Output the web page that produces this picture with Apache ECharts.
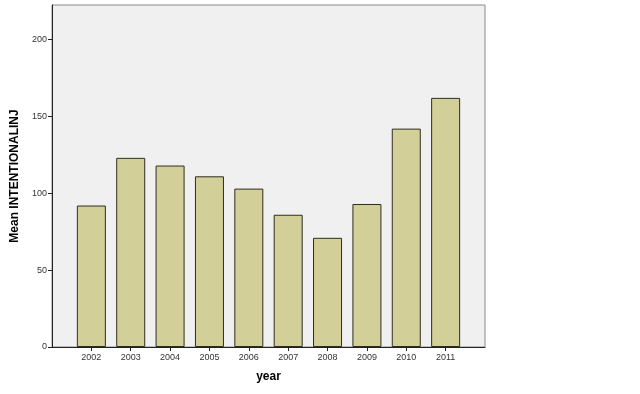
<!DOCTYPE html>
<html><head><meta charset="utf-8">
<script src="https://cdn.jsdelivr.net/npm/echarts@6/dist/echarts.min.js"></script>
<style>html,body{margin:0;padding:0;background:#fff}#c{width:640px;height:394px}</style>
</head><body><div id="c"></div>
<script>
const years = ['2002','2003','2004','2005','2006','2007','2008','2009','2010','2011'];
const meanValues = [92, 123, 118, 111, 103, 86, 71, 93, 142, 162];
const yTicks = [0, 50, 100, 150, 200];

const cats = [''].concat(years, ['']);
const vals = [null].concat(meanValues, [null]);
const chart = echarts.init(document.getElementById('c'), null, {renderer:'canvas'});
chart.setOption({
  animation: false,
  backgroundColor: '#ffffff',
  grid: {left: 52, top: 5, right: 155, bottom: 47, show: true, outerBoundsMode: 'none', containLabel: false,
         backgroundColor: '#f0f0f0', borderColor: '#8a8a8a', borderWidth: 1},
  xAxis: {
    type: 'category', data: cats, boundaryGap: false,
    name: 'year', nameLocation: 'middle', nameGap: 24,
    nameTextStyle: {fontFamily: 'Liberation Sans', fontWeight: 'bold', fontSize: 12, color: '#000'},
    axisLine: {lineStyle: {color: '#222', width: 1}},
    axisTick: {length: 4, lineStyle: {color: '#222'}, interval: (i, v) => v !== ''},
    axisLabel: {fontFamily: 'Liberation Sans', fontSize: 9, color: '#333', margin: 6, interval: 0},
    splitLine: {show: false}
  },
  yAxis: {
    type: 'value', min: 0, max: 222.4, interval: 50,
    name: 'Mean INTENTIONALINJ', nameLocation: 'middle', nameGap: 27,
    nameTextStyle: {fontFamily: 'Liberation Sans', fontWeight: 'bold', fontSize: 12, color: '#000'},
    axisLine: {show: true, lineStyle: {color: '#222', width: 1}},
    axisTick: {show: true, length: 4, lineStyle: {color: '#222'}, customValues: yTicks},
    axisLabel: {fontFamily: 'Liberation Sans', fontSize: 9, color: '#333', margin: 5, customValues: yTicks,
                formatter: v => yTicks.includes(v) ? String(v) : ''},
    splitLine: {show: false}
  },
  series: [{
    type: 'bar', data: vals, barWidth: 29,
    itemStyle: {color: '#d3cf98', borderColor: '#2e2e1e', borderWidth: 1}
  }]
});
</script></body></html>
